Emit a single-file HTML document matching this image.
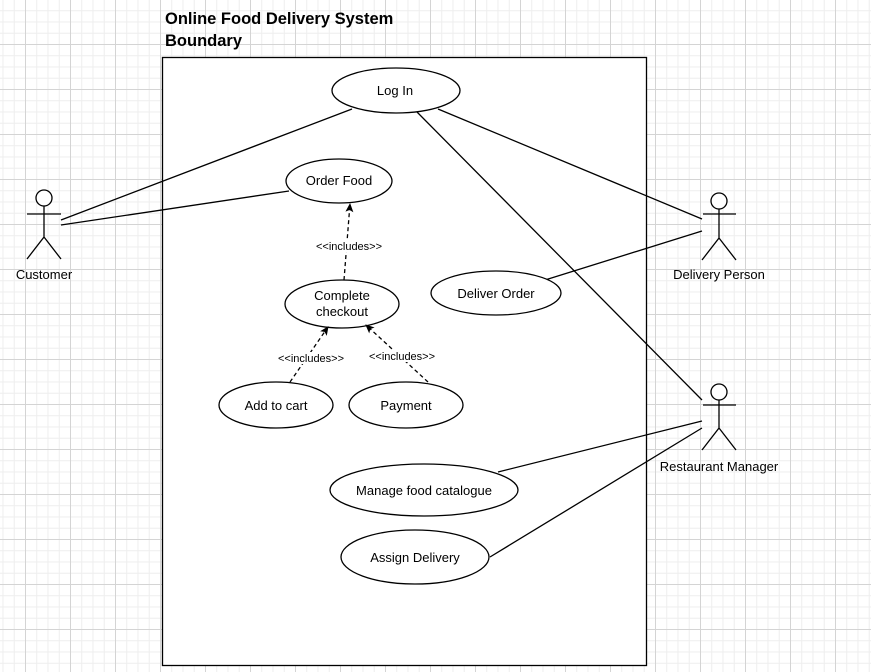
<!DOCTYPE html>
<html><head><style>
body{margin:0;width:871px;height:672px;overflow:hidden;background:#fff;
background-image:
linear-gradient(to right,#d4d4d4 1px,transparent 1px),
linear-gradient(to bottom,#d4d4d4 1px,transparent 1px),
linear-gradient(to right,#eeeeee 1px,transparent 1px),
linear-gradient(to bottom,#eeeeee 1px,transparent 1px);
background-size:45px 45px,45px 45px,11.25px 11.25px,11.25px 11.25px;
background-position:25px 44px,25px 44px,2.5px -1px,2.5px -1px;}
svg{position:absolute;left:0;top:0}
</style></head><body>
<svg width="871" height="672" font-family="Liberation Sans, Arial, sans-serif">
<defs><marker id="a" markerWidth="10" markerHeight="10" refX="8" refY="4" orient="auto" markerUnits="userSpaceOnUse"><path d="M0,0 L9,4 L0,8 L2,4 Z" fill="#000"/></marker></defs>
<text x="165" y="24" font-size="16.5" font-weight="bold">Online Food Delivery System</text>
<text x="165" y="46" font-size="16.5" font-weight="bold">Boundary</text>
<rect x="162.5" y="57.5" width="484" height="608" fill="#fff" stroke="#000" stroke-width="1.3"/>
<g stroke="#000" stroke-width="1.3" fill="none">
<circle cx="44" cy="198" r="8" fill="#fff"/>
<path d="M27 214H61M44 206V237L27 259M44 237L61 259"/>
<circle cx="719" cy="201" r="8" fill="#fff"/>
<path d="M703 214H736M719 209V238L702 260M719 238L736 260"/>
<circle cx="719" cy="392" r="8" fill="#fff"/>
<path d="M703 405H736M719 400V428L702 450M719 428L736 450"/>
<path d="M61 220L352 109M61 225L289 191M438 109L702 219M417 112L702 400M545 280L702 231M498 472L702 421M490 557L702 428"/>
</g>
<g fill="#fff" stroke="#000" stroke-width="1.3">
<ellipse cx="396" cy="90.5" rx="64" ry="22.5"/>
<ellipse cx="339" cy="181" rx="53" ry="22"/>
<ellipse cx="342" cy="304" rx="57" ry="24"/>
<ellipse cx="276" cy="405" rx="57" ry="23"/>
<ellipse cx="406" cy="405" rx="57" ry="23"/>
<ellipse cx="496" cy="293" rx="65" ry="22"/>
<ellipse cx="424" cy="490" rx="94" ry="26"/>
<ellipse cx="415" cy="557" rx="74" ry="27"/>
</g>
<g stroke="#000" stroke-width="1.3" fill="none" stroke-dasharray="4 3">
<path d="M344 280L350 204" marker-end="url(#a)"/>
<path d="M290 382L328 327" marker-end="url(#a)"/>
<path d="M428 382L366 325" marker-end="url(#a)"/>
</g>
<g font-size="13" text-anchor="middle" fill="#000">
<text x="395" y="95">Log In</text>
<text x="339" y="185">Order Food</text>
<text x="342" y="300">Complete</text>
<text x="342" y="316">checkout</text>
<text x="276" y="410">Add to cart</text>
<text x="406" y="410">Payment</text>
<text x="496" y="298">Deliver Order</text>
<text x="424" y="495">Manage food catalogue</text>
<text x="415" y="562">Assign Delivery</text>
<text x="44" y="279">Customer</text>
<text x="719" y="279">Delivery Person</text>
<text x="719" y="471">Restaurant Manager</text>
</g>
<g font-size="11" text-anchor="middle">
<rect x="312" y="240" width="74" height="12" fill="#fff"/>
<text x="349" y="250">&lt;&lt;includes&gt;&gt;</text>
<rect x="274" y="352" width="74" height="12" fill="#fff"/>
<text x="311" y="362">&lt;&lt;includes&gt;&gt;</text>
<rect x="365" y="350" width="74" height="12" fill="#fff"/>
<text x="402" y="360">&lt;&lt;includes&gt;&gt;</text>
</g>
</svg>
</body></html>
